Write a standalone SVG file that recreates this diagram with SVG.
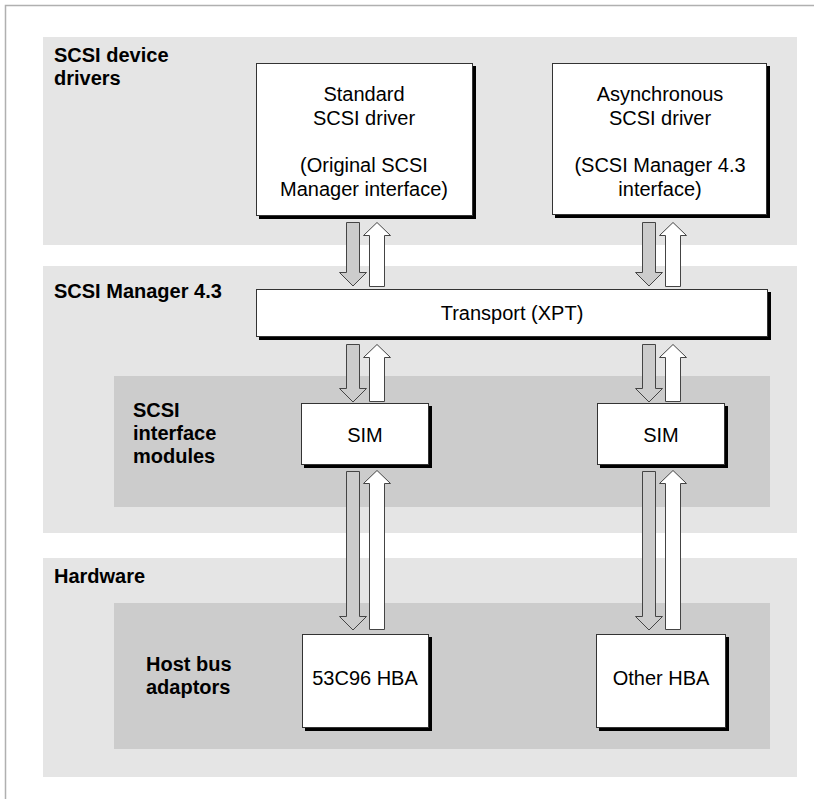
<svg xmlns="http://www.w3.org/2000/svg" width="814" height="799" viewBox="0 0 814 799">
<defs>
<style>
.band{fill:#e5e5e5}
.inner{fill:#cccccc}
.shadow{fill:#000}
.box{fill:#fff;stroke:#333;stroke-width:1}
.lbl{font-family:"Liberation Sans",Arial,sans-serif;font-size:20px;font-weight:bold;fill:#000}
.txt{font-family:"Liberation Sans",Arial,sans-serif;font-size:20px;fill:#000;text-anchor:middle}
.down{fill:#cccccc;stroke:#444;stroke-width:1}
.up{fill:#fff;stroke:#444;stroke-width:1}
</style>
</defs>
<rect width="814" height="799" fill="#fff"/>
<path d="M5.5 799 V5.5 H814" fill="none" stroke="#b0b0b0" stroke-width="1.5"/>

<g id="bands">
<rect class="band" x="43" y="37" width="754" height="208"/>
<rect class="band" x="43" y="266" width="754" height="267"/>
<rect class="inner" x="114" y="376" width="656" height="131"/>
<rect class="band" x="43" y="558" width="754" height="219"/>
<rect class="inner" x="114" y="603" width="656" height="146"/>
</g>

<g id="labels">
<text class="lbl" x="54" y="62">SCSI device</text>
<text class="lbl" x="54" y="85">drivers</text>
<text class="lbl" x="54" y="298">SCSI Manager 4.3</text>
<text class="lbl" x="133" y="417">SCSI</text>
<text class="lbl" x="133" y="440">interface</text>
<text class="lbl" x="133" y="463">modules</text>
<text class="lbl" x="54" y="583">Hardware</text>
<text class="lbl" x="146" y="671">Host bus</text>
<text class="lbl" x="146" y="694">adaptors</text>
</g>

<g id="standard-driver">
<rect class="shadow" x="259" y="66" width="217" height="153"/>
<rect class="box" x="256.5" y="63.5" width="216" height="152"/>
<text class="txt" x="364" y="101">Standard</text>
<text class="txt" x="364" y="125">SCSI driver</text>
<text class="txt" x="364" y="172">(Original SCSI</text>
<text class="txt" x="364" y="196">Manager interface)</text>
</g>

<g id="async-driver">
<rect class="shadow" x="555" y="66" width="215" height="152"/>
<rect class="box" x="552.5" y="63.5" width="214" height="151"/>
<text class="txt" x="660" y="101">Asynchronous</text>
<text class="txt" x="660" y="125">SCSI driver</text>
<text class="txt" x="660" y="172">(SCSI Manager 4.3</text>
<text class="txt" x="660" y="196">interface)</text>
</g>

<g id="transport">
<rect class="shadow" x="259" y="292" width="512" height="48"/>
<rect class="box" x="256.5" y="289.5" width="511" height="47"/>
<text class="txt" x="512" y="320">Transport (XPT)</text>
</g>

<g id="sim-left">
<rect class="shadow" x="304" y="406" width="128" height="62"/>
<rect class="box" x="301.5" y="403.5" width="127" height="61"/>
<text class="txt" x="365" y="442">SIM</text>
</g>

<g id="sim-right">
<rect class="shadow" x="600" y="406" width="128" height="62"/>
<rect class="box" x="597.5" y="403.5" width="127" height="61"/>
<text class="txt" x="661" y="442">SIM</text>
</g>

<g id="hba-53c96">
<rect class="shadow" x="305" y="637" width="127" height="94"/>
<rect class="box" x="302.5" y="634.5" width="126" height="93"/>
<text class="txt" x="365" y="685">53C96 HBA</text>
</g>

<g id="hba-other">
<rect class="shadow" x="599" y="637" width="130" height="94"/>
<rect class="box" x="596.5" y="634.5" width="129" height="93"/>
<text class="txt" x="661" y="685">Other HBA</text>
</g>

<g id="connectors">
<!-- row A -->
<path class="down" d="M346.5 222.5 H359.5 V272.5 H366.5 L353 286 L339.5 272.5 H346.5 Z"/>
<path class="up" d="M377 222.5 L390.5 235.5 H384.5 V286.5 H369.5 V235.5 H363.5 Z"/>
<path class="down" d="M642.5 222.5 H655.5 V272.5 H662.5 L649 286 L635.5 272.5 H642.5 Z"/>
<path class="up" d="M673 222.5 L686.5 235.5 H680.5 V286.5 H665.5 V235.5 H659.5 Z"/>
<!-- row B -->
<path class="down" d="M346.5 344.5 H359.5 V388.5 H366.5 L353 402 L339.5 388.5 H346.5 Z"/>
<path class="up" d="M377 344.5 L390.5 357.5 H384.5 V401.5 H369.5 V357.5 H363.5 Z"/>
<path class="down" d="M642.5 344.5 H655.5 V388.5 H662.5 L649 402 L635.5 388.5 H642.5 Z"/>
<path class="up" d="M673 344.5 L686.5 357.5 H680.5 V401.5 H665.5 V357.5 H659.5 Z"/>
<!-- row C -->
<path class="down" d="M346.5 471.5 H359.5 V616.5 H366.5 L353 630 L339.5 616.5 H346.5 Z"/>
<path class="up" d="M377 470.5 L390.5 483.5 H384.5 V629.5 H369.5 V483.5 H363.5 Z"/>
<path class="down" d="M642.5 471.5 H655.5 V616.5 H662.5 L649 630 L635.5 616.5 H642.5 Z"/>
<path class="up" d="M673 470.5 L686.5 483.5 H680.5 V629.5 H665.5 V483.5 H659.5 Z"/>
</g>
</svg>
